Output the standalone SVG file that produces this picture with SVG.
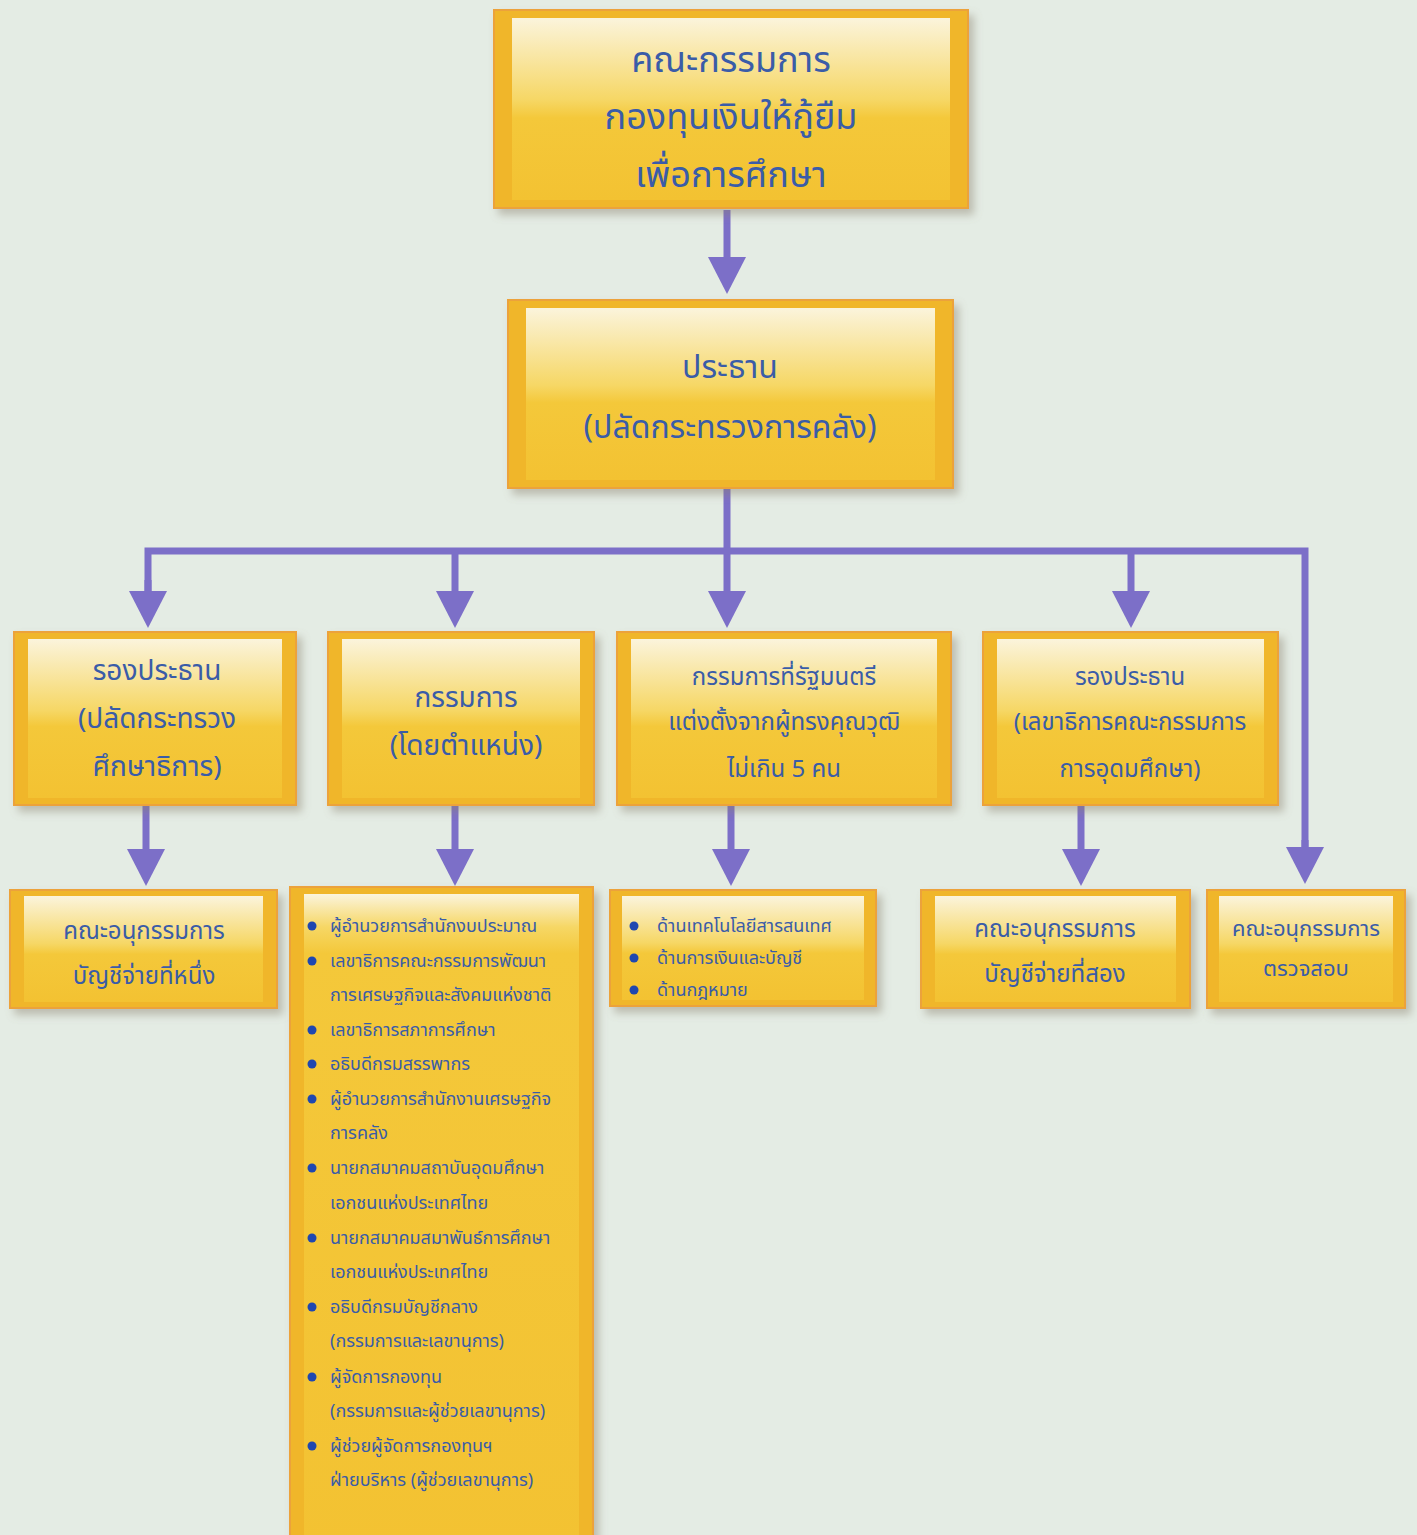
<svg xmlns="http://www.w3.org/2000/svg" width="1417" height="1535" viewBox="0 0 1417 1535">
<defs>
<linearGradient id="inner" x1="0" y1="0" x2="0" y2="1">
<stop offset="0" stop-color="#fbf4dc"/>
<stop offset="0.45" stop-color="#f6d765"/>
<stop offset="0.55" stop-color="#f4c83a"/>
<stop offset="1" stop-color="#f3c232"/>
</linearGradient>
<linearGradient id="innerTall" x1="0" y1="0" x2="0" y2="1">
<stop offset="0" stop-color="#fbf4dc"/>
<stop offset="0.05" stop-color="#f6d765"/>
<stop offset="0.09" stop-color="#f4c83a"/>
<stop offset="1" stop-color="#f3c232"/>
</linearGradient>
<filter id="sh" x="-10%" y="-10%" width="125%" height="130%">
<feDropShadow dx="5" dy="6" stdDeviation="4" flood-color="#8a8070" flood-opacity="0.45"/>
</filter>
<marker id="ah" viewBox="0 0 38 38" markerWidth="38" markerHeight="38" refX="1" refY="19" orient="auto" markerUnits="userSpaceOnUse">
<path d="M0,0 L37,19 L0,38 Z" fill="#7c6fc8"/>
</marker>
<style>
.outer{fill:#f0b62c;stroke:#eca23a;stroke-width:2;filter:url(#sh)}
.inner{fill:url(#inner)}
.t{font-family:"Noto Sans Thai","Noto Sans","Liberation Sans",sans-serif;fill:#3a5ca8;text-anchor:middle}
.l{font-family:"Noto Sans Thai","Noto Sans","Liberation Sans",sans-serif;fill:#3a5ca8;font-size:18px}
.b{fill:#1f47b0}
.c{fill:none;stroke:#7c6fc8;stroke-width:7}
</style>
</defs>
<rect width="1417" height="1535" fill="#e4ece4"/>

<g id="connectors">
<path class="c" d="M727,210 V258" marker-end="url(#ah)"/>
<path class="c" d="M727,488 V592" marker-end="url(#ah)"/>
<path class="c" d="M148,592 V551 H1305 V848" stroke-linejoin="miter"/>
<path class="c" d="M148,580 V592" marker-end="url(#ah)"/>
<path class="c" d="M1305,840 V848" marker-end="url(#ah)"/>
<path class="c" d="M455,551 V592" marker-end="url(#ah)"/>
<path class="c" d="M1131,551 V592" marker-end="url(#ah)"/>
<path class="c" d="M146,805 V850" marker-end="url(#ah)"/>
<path class="c" d="M455,805 V850" marker-end="url(#ah)"/>
<path class="c" d="M731,805 V850" marker-end="url(#ah)"/>
<path class="c" d="M1081,805 V850" marker-end="url(#ah)"/>
</g>

<g id="board">
<rect class="outer" x="494" y="10" width="474" height="198"/>
<rect class="inner" x="512" y="18" width="438" height="182"/>
<text class="t" font-size="36" x="731" y="72">คณะกรรมการ</text>
<text class="t" font-size="36" x="731" y="129">กองทุนเงินให้กู้ยืม</text>
<text class="t" font-size="36" x="731" y="187">เพื่อการศึกษา</text>
</g>

<g id="chairman">
<rect class="outer" x="508" y="300" width="445" height="188"/>
<rect class="inner" x="526" y="308" width="409" height="172"/>
<text class="t" font-size="32" x="730" y="378">ประธาน</text>
<text class="t" font-size="32" x="730" y="438">(ปลัดกระทรวงการคลัง)</text>
</g>

<g id="vice1">
<rect class="outer" x="14" y="632" width="282" height="173"/>
<rect class="inner" x="28" y="639" width="254" height="159"/>
<text class="t" font-size="28" x="157" y="680">รองประธาน</text>
<text class="t" font-size="28" x="157" y="728">(ปลัดกระทรวง</text>
<text class="t" font-size="28" x="157" y="776">ศึกษาธิการ)</text>
</g>

<g id="exofficio">
<rect class="outer" x="328" y="632" width="266" height="173"/>
<rect class="inner" x="342" y="639" width="238" height="159"/>
<text class="t" font-size="28" x="466" y="707">กรรมการ</text>
<text class="t" font-size="28" x="466" y="755">(โดยตำแหน่ง)</text>
</g>

<g id="experts">
<rect class="outer" x="617" y="632" width="334" height="173"/>
<rect class="inner" x="631" y="639" width="306" height="159"/>
<text class="t" font-size="24" x="784" y="685">กรรมการที่รัฐมนตรี</text>
<text class="t" font-size="24" x="784" y="730">แต่งตั้งจากผู้ทรงคุณวุฒิ</text>
<text class="t" font-size="24" x="784" y="777">ไม่เกิน 5 คน</text>
</g>

<g id="vice2">
<rect class="outer" x="983" y="632" width="295" height="173"/>
<rect class="inner" x="997" y="639" width="267" height="159"/>
<text class="t" font-size="24" x="1130" y="685">รองประธาน</text>
<text class="t" font-size="24" x="1130" y="730">(เลขาธิการคณะกรรมการ</text>
<text class="t" font-size="24" x="1130" y="777">การอุดมศึกษา)</text>
</g>

<g id="sub1">
<rect class="outer" x="10" y="890" width="267" height="118"/>
<rect class="inner" x="24" y="896" width="239" height="106"/>
<text class="t" font-size="24" x="144" y="939">คณะอนุกรรมการ</text>
<text class="t" font-size="24" x="144" y="984">บัญชีจ่ายที่หนึ่ง</text>
</g>

<g id="members">
<rect class="outer" x="290" y="887" width="303" height="660"/>
<rect x="304" y="894" width="275" height="660" fill="url(#innerTall)"/>
<circle class="b" cx="312" cy="926" r="4.5"/><text class="l" x="330" y="932">ผู้อำนวยการสำนักงบประมาณ</text>
<circle class="b" cx="312" cy="961" r="4.5"/><text class="l" x="330" y="967">เลขาธิการคณะกรรมการพัฒนา</text>
<text class="l" x="330" y="1001">การเศรษฐกิจและสังคมแห่งชาติ</text>
<circle class="b" cx="312" cy="1030" r="4.5"/><text class="l" x="330" y="1036">เลขาธิการสภาการศึกษา</text>
<circle class="b" cx="312" cy="1064" r="4.5"/><text class="l" x="330" y="1070">อธิบดีกรมสรรพากร</text>
<circle class="b" cx="312" cy="1099" r="4.5"/><text class="l" x="330" y="1105">ผู้อำนวยการสำนักงานเศรษฐกิจ</text>
<text class="l" x="330" y="1139">การคลัง</text>
<circle class="b" cx="312" cy="1168" r="4.5"/><text class="l" x="330" y="1174">นายกสมาคมสถาบันอุดมศึกษา</text>
<text class="l" x="330" y="1209">เอกชนแห่งประเทศไทย</text>
<circle class="b" cx="312" cy="1238" r="4.5"/><text class="l" x="330" y="1244">นายกสมาคมสมาพันธ์การศึกษา</text>
<text class="l" x="330" y="1278">เอกชนแห่งประเทศไทย</text>
<circle class="b" cx="312" cy="1307" r="4.5"/><text class="l" x="330" y="1313">อธิบดีกรมบัญชีกลาง</text>
<text class="l" x="330" y="1347">(กรรมการและเลขานุการ)</text>
<circle class="b" cx="312" cy="1377" r="4.5"/><text class="l" x="330" y="1383">ผู้จัดการกองทุน</text>
<text class="l" x="330" y="1417">(กรรมการและผู้ช่วยเลขานุการ)</text>
<circle class="b" cx="312" cy="1446" r="4.5"/><text class="l" x="330" y="1452">ผู้ช่วยผู้จัดการกองทุนฯ</text>
<text class="l" x="330" y="1486">ฝ่ายบริหาร (ผู้ช่วยเลขานุการ)</text>
</g>

<g id="fields">
<rect class="outer" x="610" y="890" width="266" height="116"/>
<rect class="inner" x="622" y="896" width="242" height="104"/>
<circle class="b" cx="634" cy="926" r="4.5"/><text class="l" x="657" y="932">ด้านเทคโนโลยีสารสนเทศ</text>
<circle class="b" cx="634" cy="958" r="4.5"/><text class="l" x="657" y="964">ด้านการเงินและบัญชี</text>
<circle class="b" cx="634" cy="990" r="4.5"/><text class="l" x="657" y="996">ด้านกฎหมาย</text>
</g>

<g id="sub2">
<rect class="outer" x="921" y="890" width="269" height="118"/>
<rect class="inner" x="935" y="896" width="241" height="106"/>
<text class="t" font-size="24" x="1055" y="937">คณะอนุกรรมการ</text>
<text class="t" font-size="24" x="1055" y="982">บัญชีจ่ายที่สอง</text>
</g>

<g id="audit">
<rect class="outer" x="1207" y="890" width="198" height="118"/>
<rect class="inner" x="1219" y="896" width="174" height="106"/>
<text class="t" font-size="22" x="1306" y="936">คณะอนุกรรมการ</text>
<text class="t" font-size="22" x="1306" y="976">ตรวจสอบ</text>
</g>
</svg>
